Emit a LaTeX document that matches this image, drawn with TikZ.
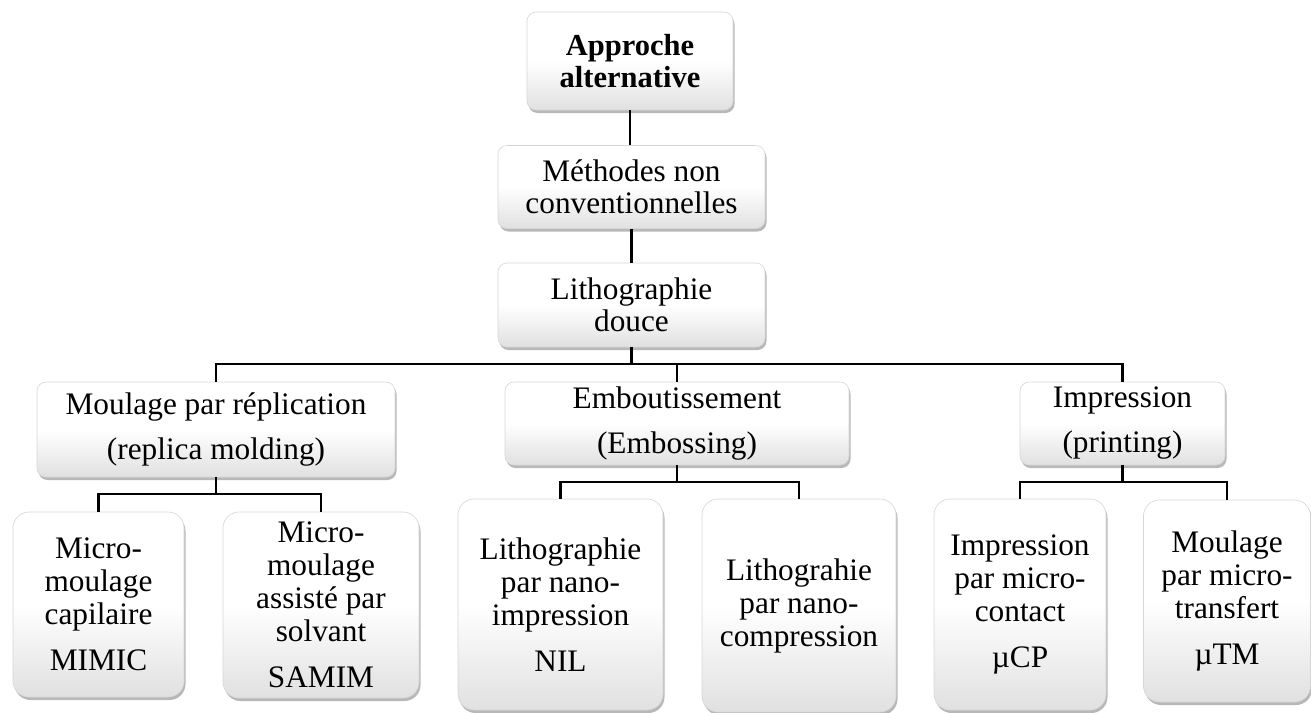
\documentclass[tikz,border=0pt]{standalone}
\usepackage{fontspec}
\setmainfont{Liberation Serif}
\usetikzlibrary{shadows}
\tikzset{
  box/.style={draw=black!16, line width=0.6pt, rounded corners=9pt,
    top color=white, bottom color=black!12, middle color=white,
    drop shadow={shadow xshift=1.5pt, shadow yshift=-3pt, opacity=0.28, fill=black},
    align=center, inner sep=0pt, font=\fontsize{31.3}{32}\selectfont},
  leaf/.style={box, rounded corners=16pt, font=\fontsize{31.3}{33}\selectfont},
  mid/.style={box, font=\fontsize{31.3}{33}\selectfont},
  link/.style={line width=2.6pt, black},
}
\begin{document}
\begin{tikzpicture}[x=1pt,y=-1pt]
\useasboundingbox (0,0) rectangle (1311,712);

\node[box, minimum width=206pt, minimum height=98pt, font=\fontsize{30.5}{31.5}\selectfont\bfseries] (a) at (630,61) {Approche\\alternative};
\node[box, minimum width=267pt, minimum height=83pt] (b) at (631.5,187) {Méthodes non\\conventionnelles};
\node[box, minimum width=267pt, minimum height=84pt] (c) at (631.5,305) {Lithographie\\douce};

\node[mid, minimum width=358pt, minimum height=95pt] (d) at (216,429.5) {Moulage par réplication\\[12pt](replica molding)};
\node[mid, minimum width=344pt, minimum height=83pt] (e) at (677,423.5) {Emboutissement\\[12pt](Embossing)};
\node[mid, minimum width=205pt, minimum height=83pt] (f) at (1122.5,423.5) {Impression\\[12pt](printing)};

\node[leaf, minimum width=171pt, minimum height=185pt] (g) at (98.5,604.5) {Micro-\\moulage\\capilaire\\[13pt]MIMIC};
\node[leaf, minimum width=196pt, minimum height=186pt] (h) at (321,605) {Micro-\\moulage\\assisté par\\solvant\\[13pt]SAMIM};
\node[leaf, minimum width=205pt, minimum height=211pt] (i) at (560.5,604.5) {Lithographie\\par nano-\\impression\\[13pt]NIL};
\node[leaf, minimum width=194pt, minimum height=213pt] (j) at (799,605.5) {Lithograhie\\par nano-\\compression};
\node[leaf, minimum width=172pt, minimum height=211pt] (k) at (1020,604.5) {Impression\\par micro-\\contact\\[13pt]µCP};
\node[leaf, minimum width=167pt, minimum height=202pt] (l) at (1227,601) {Moulage\\par micro-\\transfert\\[13pt]µTM};

\coordinate (bus) at (0,364);
\coordinate (busd) at (0,494);
\coordinate (buse) at (0,482);

\draw[link] (a.south) -- (a.south |- b.north);
\draw[link] (b.south) -- (b.south |- c.north);
\draw[link] (c.south) -- (c.south |- bus);
\draw[link] (d.north) -- (d.north |- bus) -- (f.north |- bus) -- (f.north);
\draw[link] (e.north) -- (e.north |- bus);

\draw[link] (d.south) -- (d.south |- busd);
\draw[link] (g.north) -- (g.north |- busd) -- (h.north |- busd) -- (h.north);
\draw[link] (e.south) -- (e.south |- buse);
\draw[link] (i.north) -- (i.north |- buse) -- (j.north |- buse) -- (j.north);
\draw[link] (f.south) -- (f.south |- buse);
\draw[link] (k.north) -- (k.north |- buse) -- (l.north |- buse) -- (l.north);
\end{tikzpicture}
\end{document}
